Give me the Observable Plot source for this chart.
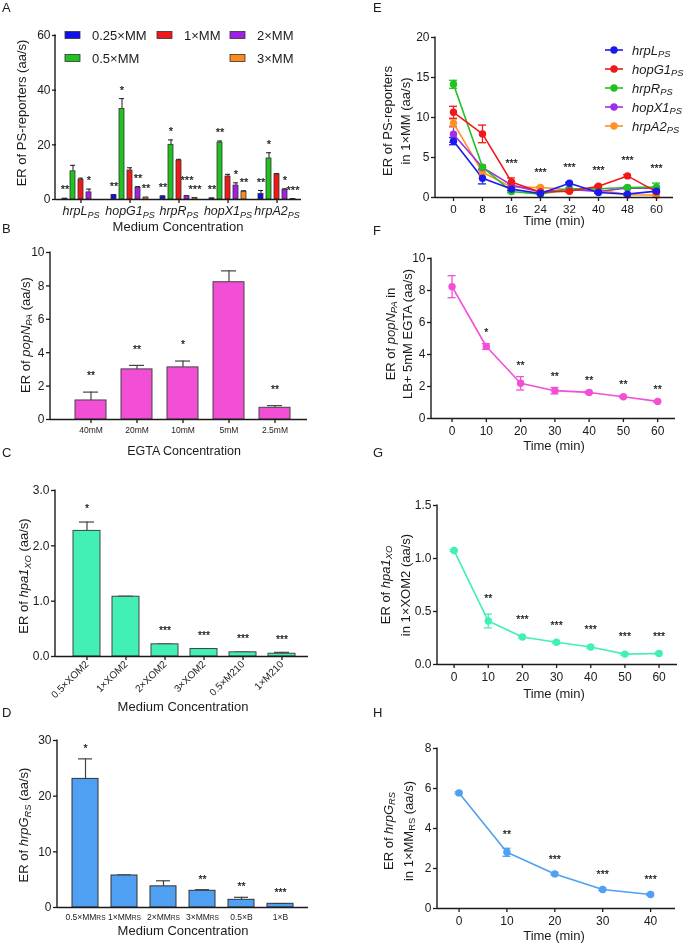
<!DOCTYPE html>
<html><head><meta charset="utf-8">
<script src="https://cdn.jsdelivr.net/npm/d3@7"></script>
<script src="https://cdn.jsdelivr.net/npm/@observablehq/plot@0.6"></script>
<style>
body{margin:0;background:#fff;}
#fig{position:relative;width:685px;height:945px;background:#fff;overflow:hidden;}
.panel{position:absolute;will-change:transform;}
</style></head><body><div id="fig"></div>
<script>
// ---------------- Panel A ----------------
const aGroups = ["hrpL","hopG1","hrpR","hopX1","hrpA2"];
const aSeries = ["0.25×MM","0.5×MM","1×MM","2×MM","3×MM"];
const aMean025 = [0.3, 1.6, 1.1, 0.4, 2.0];
const aMean05  = [10.3, 33.1, 20.0, 20.8, 15.0];
const aMean1   = [7.2, 10.6, 14.2, 8.4, 9.2];
const aMean2   = [2.6, 4.2, 1.2, 5.1, 3.5];
const aMean3   = [null, 0.7, 0.6, 2.8, 0.15];
const aSem025 = [0.1, 0.2, 0.2, 0.1, 1.3];
const aSem05  = [2.2, 3.8, 1.8, 0.6, 2.1];
const aSem1   = [0.6, 1.0, 0.5, 0.8, 0.3];
const aSem2   = [1.2, 0.5, 0.2, 1.0, 0.4];
const aSem3   = [null, 0.1, 0.1, 0.4, 0.05];
const aSig025 = ["**","**","**","**","**"];
const aSig05  = ["","*","*","**","*"];
const aSig1   = ["","","","",""];
const aSig2   = ["*","**","***","*","*"];
const aSig3   = ["","**","***","**","***"];
const aTicks = [0, 20, 40, 60];

// ---------------- Panel B ----------------
const bConc = ["40mM","20mM","10mM","5mM","2.5mM"];
const bMean = [1.14, 3.0, 3.12, 8.22, 0.70];
const bSem  = [0.5, 0.24, 0.38, 0.68, 0.13];
const bSig  = ["**","**","*","","**"];
const bTicks = [0, 2, 4, 6, 8, 10];

// ---------------- Panel C ----------------
const cMedia = ["0.5×XOM2","1×XOM2","2×XOM2","3×XOM2","0.5×M210","1×M210"];
const cMean = [2.27, 1.08, 0.22, 0.135, 0.075, 0.05];
const cSem  = [0.16, 0.01, 0.005, 0.005, 0.005, 0.025];
const cSig  = ["*","","***","***","***","***"];
const cTicks = [0, 1, 2, 3];

// ---------------- Panel D ----------------
const dMedia = ["0.5×MMRS","1×MMRS","2×MMRS","3×MMRS","0.5×B","1×B"];
const dMean = [23.1, 5.75, 3.8, 3.0, 1.38, 0.66];
const dSem  = [3.6, 0.1, 1.0, 0.2, 0.45, 0.05];
const dSig  = ["*","","","**","**","***"];
const dTicks = [0, 10, 20, 30];

// ---------------- Panel E ----------------
const eTimes = ["0","8","16","24","32","40","48","60"];
const eSeries = ["hrpL","hopG1","hrpR","hopX1","hrpA2"];
const eHrpL  = [7.05, 2.4, 1.05, 0.5, 1.78, 0.63, 0.42, 0.8];
const eHopG1 = [10.65, 7.95, 1.95, 0.65, 0.78, 1.4, 2.7, 0.7];
const eHrpR  = [14.15, 3.8, 0.75, 0.42, 1.1, 1.1, 1.25, 1.3];
const eHopX1 = [7.9, 3.75, 1.55, 0.7, 1.0, 0.75, 1.2, 1.15];
const eHrpA2 = [9.3, 3.15, 1.3, 1.25, 1.0, 0.95, 0.35, 0.3];
const eSemHrpL  = [0.45, 0.7, 0.2, 0.1, 0.1, 0.1, 0.1, 0.1];
const eSemHopG1 = [0.75, 1.1, 0.5, 0.1, 0.1, 0.1, 0.15, 0.1];
const eSemHrpR  = [0.5, 0.2, 0.15, 0.05, 0.1, 0.1, 0.1, 0.5];
const eSemHopX1 = [1.0, 0.3, 0.2, 0.1, 0.1, 0.1, 0.1, 0.1];
const eSemHrpA2 = [0.5, 0.3, 0.2, 0.1, 0.1, 0.1, 0.1, 0.1];
const eSig = ["","","***","***","***","***","***","***"];
const eTicks = [0, 5, 10, 15, 20];

// ---------------- Panel F ----------------
const fTimes = [0, 10, 20, 30, 40, 50, 60];
const fMean = [8.24, 4.5, 2.2, 1.74, 1.63, 1.36, 1.07];
const fSem  = [0.69, 0.18, 0.42, 0.2, 0.08, 0.06, 0.05];
const fSig  = ["","*","**","**","**","**","**"];
const fTicks = [0, 2, 4, 6, 8, 10];

// ---------------- Panel G ----------------
const gTimes = [0, 10, 20, 30, 40, 50, 60];
const gMean = [1.075, 0.41, 0.26, 0.21, 0.165, 0.098, 0.104];
const gSem  = [0.01, 0.065, 0.01, 0.01, 0.01, 0.01, 0.01];
const gSig  = ["","**","***","***","***","***","***"];
const gTicks = [0, 0.5, 1.0, 1.5];

// ---------------- Panel H ----------------
const hTimes = [0, 10, 20, 30, 40];
const hMean = [5.78, 2.81, 1.73, 0.95, 0.7];
const hSem  = [0.05, 0.2, 0.05, 0.05, 0.05];
const hSig  = ["","**","***","***","***"];
const hTicks = [0, 2, 4, 6, 8];

// ---------------- styling ----------------
const FONT = '"Liberation Sans", Arial, Helvetica, sans-serif';
const INK = "#1b1b1b";
const STAR = "#222";
const aColors = ["#1010ee", "#22c122", "#f01818", "#a020e6", "#ff8a1c"];
const eColors = ["#1a1aee", "#f01818", "#22c122", "#a22ee6", "#ff9224"];
const PINK = "#f24fd6", AQUA = "#42efb4", SKY = "#4f9ff2";

function st(fs) { return {fontFamily: FONT, fontSize: fs + "px", color: INK, background: "transparent", overflow: "visible"}; }

// markup: «italic», _{subscript}, ^{small}
function rich(textEl, str) {
  const segs = []; let it = false, mode = null, buf = "";
  const push = () => { if (buf) segs.push({t: buf, it, mode}); buf = ""; };
  for (let k = 0; k < str.length; k++) {
    const ch = str[k];
    if (ch === "«") { push(); it = true; continue; }
    if (ch === "»") { push(); it = false; continue; }
    if ((ch === "_" || ch === "^") && str[k + 1] === "{") { push(); mode = ch === "_" ? "sub" : "small"; k++; continue; }
    if (ch === "}" && mode) { push(); mode = null; continue; }
    buf += ch;
  }
  push();
  const sel = d3.select(textEl); sel.text(null);
  let shift = 0;
  for (const s of segs) {
    const ts = sel.append("tspan").text(s.t);
    if (s.it) ts.attr("font-style", "italic");
    let f = 1, target = 0;
    if (s.mode === "sub") { f = 0.72; target = 0.2; ts.attr("font-size", "0.72em"); }
    else if (s.mode === "small") { f = 0.78; target = 0; ts.attr("font-size", "0.78em"); }
    if (target !== shift) { ts.attr("dy", ((target - shift) / f).toFixed(3) + "em"); shift = target; }
  }
}

function label(s, x, y, str, o = {}) {
  const t = s.append("text").attr("fill", INK).attr("font-family", FONT)
    .attr("font-size", o.size || 13).attr("text-anchor", o.anchor || "middle");
  if (o.rot) t.attr("transform", `translate(${x},${y}) rotate(-90)`).attr("dy", "0.36em");
  else t.attr("x", x).attr("y", y);
  t.text(str);
  return t;
}

function make(opts, left, top, deco) {
  const svg = Plot.plot(opts);
  const s = d3.select(svg);
  const x0 = opts.marginLeft, y0 = opts.marginTop, y1 = opts.height - opts.marginBottom;
  s.append("line").attr("x1", x0).attr("x2", x0).attr("y1", y0 - 0.6).attr("y2", y1 + 0.7)
    .attr("stroke", INK).attr("stroke-width", 1.4);
  deco(s);
  svg.querySelectorAll("text").forEach(t => { const str = t.textContent; if (/«|[_^]\{/.test(str)) rich(t, str); });
  const div = document.createElement("div");
  div.className = "panel"; div.style.left = left + "px"; div.style.top = top + "px";
  div.appendChild(svg); document.getElementById("fig").appendChild(div);
}

const axisLine = () => Plot.ruleY([0], {stroke: INK, strokeWidth: 1.4});
const starText = (data, o) => Plot.text(data, {text: "sig", fontSize: 10.5, fill: STAR, stroke: STAR, strokeWidth: 0.25, ...o});

// ================= Panel A =================
{
  const means = [aMean025, aMean05, aMean1, aMean2, aMean3];
  const sems = [aSem025, aSem05, aSem1, aSem2, aSem3];
  const sigs = [aSig025, aSig05, aSig1, aSig2, aSig3];
  const data = [];
  aGroups.forEach((g, i) => aSeries.forEach((s, j) => {
    if (means[j][i] == null) return;
    data.push({g, s, v: means[j][i], top: means[j][i] + sems[j][i], sig: sigs[j][i], sy: means[j][i] + sems[j][i]});
  }));
  // keep wide neighbouring star labels from colliding: lift the left one
  for (let k = 0; k < data.length - 1; k++) {
    const a = data[k], b = data[k + 1];
    if (a.g === b.g && a.sig && b.sig && a.sig.length + b.sig.length > 4 && Math.abs(a.sy - b.sy) < 3) a.sy = b.sy + 3.3;
  }
  make({
    width: 345, height: 235, marginLeft: 55, marginRight: 43, marginTop: 35, marginBottom: 36,
    style: st(12),
    fx: {domain: aGroups, padding: 0},
    x: {domain: aSeries, paddingInner: 0.4, paddingOuter: 0.6, axis: null},
    y: {domain: [0, 60]},
    color: {domain: aSeries, range: aColors},
    marks: [
      Plot.ruleX(data, {fx: "g", x: "s", y1: "v", y2: "top", stroke: INK, strokeWidth: 1}),
      Plot.tickY(data, {fx: "g", x: "s", y: "top", stroke: INK, strokeWidth: 1}),
      Plot.barY(data, {fx: "g", x: "s", y: "v", fill: "s", stroke: "#333", strokeWidth: 0.8}),
      starText(data.filter(d => d.sig), {fx: "g", x: "s", y: "sy", dy: -8.5, fontSize: 11}),
      axisLine(),
      Plot.axisY({ticks: aTicks, tickSize: 4, tickPadding: 2, label: null, strokeWidth: 1.3}),
      Plot.axisFx({anchor: "bottom", tickSize: 4, tickPadding: 3, label: null, fontSize: 12.5, strokeWidth: 1.3,
        tickFormat: d => `«${d}»_{«PS»}`})
    ]
  }, 0, 0, s => {
    label(s, 21.5, 113, "ER of PS-reporters (aa/s)", {rot: true});
    label(s, 178, 230.5, "Medium Concentration");
    label(s, 2, 12, "A", {anchor: "start"});
    const cols = [65, 157, 230], rows = [35, 58];
    const pos = [[0, 0], [0, 1], [1, 0], [2, 0], [2, 1]];
    aSeries.forEach((name, j) => {
      const x = cols[pos[j][0]], y = rows[pos[j][1]];
      s.append("rect").attr("x", x).attr("y", y - 3.5).attr("width", 15).attr("height", 7)
        .attr("fill", aColors[j]).attr("stroke", "#333").attr("stroke-width", 0.8);
      label(s, x + 27, y + 4.6, name, {anchor: "start", size: 13});
    });
  });
}

// ================= Panel B =================
{
  const data = bConc.map((c, i) => ({c, v: bMean[i], top: bMean[i] + bSem[i], sig: bSig[i]}));
  make({
    width: 345, height: 235, marginLeft: 50, marginRight: 38, marginTop: 17, marginBottom: 51,
    style: st(12),
    x: {domain: bConc, paddingInner: 0.32, paddingOuter: 0, insetLeft: 23, insetRight: 15},
    y: {domain: [0, 10]},
    marks: [
      Plot.ruleX(data, {x: "c", y1: "v", y2: "top", stroke: "#444", strokeWidth: 1.2}),
      Plot.tickY(data, {x: "c", y: "top", stroke: "#444", strokeWidth: 1.2, insetLeft: 8, insetRight: 8}),
      Plot.barY(data, {x: "c", y: "v", fill: PINK, stroke: "#444", strokeWidth: 1}),
      starText(data.filter(d => d.sig), {x: "c", y: "top", dy: -16}),
      axisLine(),
      Plot.axisY({ticks: bTicks, tickSize: 4, tickPadding: 2, label: null, strokeWidth: 1.3}),
      Plot.axisX({tickSize: 4, tickPadding: 3, label: null, fontSize: 8.5, strokeWidth: 1.3})
    ]
  }, 0, 235, s => {
    label(s, 25, 100, "ER of «popN»_{«PA»} (aa/s)", {rot: true});
    label(s, 184, 220, "EGTA Concentration", {size: 12.5});
    label(s, 2, -2, "B", {anchor: "start"});
  });
}

// ================= Panel C =================
{
  const data = cMedia.map((c, i) => ({c, v: cMean[i], top: cMean[i] + cSem[i], sig: cSig[i]}));
  make({
    width: 345, height: 235, marginLeft: 55, marginRight: 37, marginTop: 20, marginBottom: 49,
    style: st(12),
    x: {domain: cMedia, paddingInner: 0.32, paddingOuter: 0, insetLeft: 17, insetRight: 12.6},
    y: {domain: [0, 3]},
    marks: [
      Plot.ruleX(data, {x: "c", y1: "v", y2: "top", stroke: "#444", strokeWidth: 1.2}),
      Plot.tickY(data, {x: "c", y: "top", stroke: "#444", strokeWidth: 1.2, insetLeft: 6, insetRight: 6}),
      Plot.barY(data, {x: "c", y: "v", fill: AQUA, stroke: "#444", strokeWidth: 1}),
      starText(data.filter(d => d.sig), {x: "c", y: "top", dy: -13}),
      axisLine(),
      Plot.axisY({ticks: cTicks, tickFormat: ".1f", tickSize: 4, tickPadding: 2, label: null, strokeWidth: 1.3}),
      Plot.axisX({tickSize: 4, tickPadding: 2, tickRotate: -45, label: null, fontSize: 10, strokeWidth: 1.3})
    ]
  }, 0, 470, s => {
    label(s, 23.5, 106, "ER of «hpa1»_{«XO»} (aa/s)", {rot: true});
    label(s, 183, 241, "Medium Concentration");
    label(s, 2, -13, "C", {anchor: "start"});
  });
}

// ================= Panel D =================
{
  const data = dMedia.map((c, i) => ({c, v: dMean[i], top: dMean[i] + dSem[i], sig: dSig[i]}));
  make({
    width: 345, height: 240, marginLeft: 57, marginRight: 37, marginTop: 35, marginBottom: 38,
    style: st(12),
    x: {domain: dMedia, paddingInner: 0.33, paddingOuter: 0, insetLeft: 13, insetRight: 13},
    y: {domain: [0, 30]},
    marks: [
      Plot.ruleX(data, {x: "c", y1: "v", y2: "top", stroke: "#444", strokeWidth: 1.2}),
      Plot.tickY(data, {x: "c", y: "top", stroke: "#444", strokeWidth: 1.2, insetLeft: 6, insetRight: 6}),
      Plot.barY(data, {x: "c", y: "v", fill: SKY, stroke: "#333", strokeWidth: 1}),
      starText(data.filter(d => d.sig), {x: "c", y: "top", dy: -10.5}),
      axisLine(),
      Plot.axisY({ticks: dTicks, tickSize: 4, tickPadding: 2, label: null, strokeWidth: 1.3}),
      Plot.axisX({tickSize: 0, tickPadding: 6, label: null, fontSize: 8.5,
        tickFormat: d => d.replace(/RS$/, "^{RS}")})
    ]
  }, 0, 705, s => {
    label(s, 23.5, 120, "ER of «hrpG»_{«RS»} (aa/s)", {rot: true});
    label(s, 183, 230, "Medium Concentration");
    label(s, 2, 12, "D", {anchor: "start"});
  });
}

// ================= Panel E =================
{
  const means = [eHrpL, eHopG1, eHrpR, eHopX1, eHrpA2];
  const sems = [eSemHrpL, eSemHopG1, eSemHrpR, eSemHopX1, eSemHrpA2];
  const data = [];
  [4, 3, 2, 1, 0].forEach(j => eTimes.forEach((t, i) =>
    data.push({s: eSeries[j], t, v: means[j][i], lo: means[j][i] - sems[j][i], hi: means[j][i] + sems[j][i]})));
  const stars = eTimes.map((t, i) => ({t, sig: eSig[i], top: d3.max(means, (m, j) => m[i] + sems[j][i])})).filter(d => d.sig);
  make({
    width: 340, height: 235, marginLeft: 90, marginRight: 12, marginTop: 37, marginBottom: 38,
    style: st(12),
    x: {type: "point", domain: eTimes, padding: 0.5},
    y: {domain: [0, 20]},
    color: {domain: eSeries, range: eColors},
    marks: [
      Plot.ruleX(data, {x: "t", y1: "lo", y2: "hi", stroke: "s", strokeWidth: 1.3}),
      Plot.ruleY(data, {x1: "t", x2: "t", y: "hi", stroke: "s", strokeWidth: 1.3, insetLeft: -4, insetRight: -4}),
      Plot.ruleY(data, {x1: "t", x2: "t", y: "lo", stroke: "s", strokeWidth: 1.3, insetLeft: -4, insetRight: -4}),
      Plot.line(data, {x: "t", y: "v", stroke: "s", z: "s", strokeWidth: 1.6}),
      Plot.dot(data, {x: "t", y: "v", fill: "s", r: 3.7}),
      starText(stars, {x: "t", y: "top", dy: -14.5}),
      axisLine(),
      Plot.axisY({ticks: eTicks, tickSize: 4, tickPadding: 2, label: null, strokeWidth: 1.3}),
      Plot.axisX({tickSize: 4, tickPadding: 3, label: null, fontSize: 11.5, strokeWidth: 1.3})
    ]
  }, 345, 0, s => {
    label(s, 42, 121, "ER of PS-reporters", {rot: true});
    label(s, 60, 121, "in 1×MM (aa/s)", {rot: true});
    label(s, 209, 225, "Time (min)");
    label(s, 28, 12, "E", {anchor: "start"});
    eSeries.forEach((name, j) => {
      const y = 50 + j * 19;
      s.append("line").attr("x1", 260).attr("x2", 278).attr("y1", y).attr("y2", y)
        .attr("stroke", eColors[j]).attr("stroke-width", 1.6);
      s.append("circle").attr("cx", 269).attr("cy", y).attr("r", 3.7).attr("fill", eColors[j]);
      label(s, 287, y + 4.5, `«${name}»_{«PS»}`, {anchor: "start", size: 13});
    });
  });
}

// ============ single-series time panels ============
function timePanel(times, mean, sem, sig, cfg) {
  const data = times.map((t, i) => ({t, v: mean[i], lo: mean[i] - sem[i], hi: mean[i] + sem[i], sig: sig[i]}));
  make({
    width: 340, height: cfg.height, marginLeft: cfg.ml, marginRight: cfg.mr, marginTop: cfg.mt, marginBottom: cfg.mb,
    style: st(12),
    x: {domain: cfg.xdom},
    y: {domain: cfg.ydom},
    marks: [
      Plot.ruleX(data, {x: "t", y1: "lo", y2: "hi", stroke: cfg.color, strokeWidth: 1.3}),
      Plot.ruleY(data, {x1: "t", x2: "t", y: "hi", stroke: cfg.color, strokeWidth: 1.3, insetLeft: -4, insetRight: -4}),
      Plot.ruleY(data, {x1: "t", x2: "t", y: "lo", stroke: cfg.color, strokeWidth: 1.3, insetLeft: -4, insetRight: -4}),
      Plot.line(data, {x: "t", y: "v", stroke: cfg.color, strokeWidth: 1.6}),
      Plot.dot(data, {x: "t", y: "v", fill: cfg.color, r: 3.7}),
      starText(data.filter(d => d.sig), {x: "t", y: "hi", dy: cfg.dy}),
      axisLine(),
      Plot.axisY({ticks: cfg.yticks, tickFormat: cfg.yfmt, tickSize: 4, tickPadding: 2, label: null, strokeWidth: 1.3}),
      Plot.axisX({ticks: times, tickSize: 4, tickPadding: 4, label: null, strokeWidth: 1.3})
    ]
  }, 345, cfg.top, s => {
    label(s, cfg.t1x, cfg.ty, cfg.title1, {rot: true});
    label(s, cfg.t2x, cfg.ty, cfg.title2, {rot: true});
    label(s, 209, cfg.xty, "Time (min)");
    label(s, 28, cfg.ly, cfg.letter, {anchor: "start"});
  });
}

timePanel(fTimes, fMean, fSem, fSig, {
  top: 235, height: 235, ml: 86, mr: 10, mt: 23, mb: 52, xdom: [-6, 65.2], ydom: [0, 10], yticks: fTicks,
  color: PINK, dy: -11, title1: "ER of «popN»_{«PA»} in", title2: "LB+ 5mM EGTA (aa/s)",
  t1x: 45, t2x: 62, ty: 99, xty: 215, letter: "F", ly: 0
});
timePanel(gTimes, gMean, gSem, gSig, {
  top: 470, height: 235, ml: 92, mr: 8, mt: 35, mb: 41, xdom: [-4.86, 65.4], ydom: [0, 1.5], yticks: gTicks, yfmt: ".1f",
  color: AQUA, dy: -16, title1: "ER of «hpa1»_{«XO»}", title2: "in 1×XOM2 (aa/s)",
  t1x: 40, t2x: 60, ty: 115, xty: 227.7, letter: "G", ly: -13
});
timePanel(hTimes, hMean, hSem, hSig, {
  top: 705, height: 240, ml: 92, mr: 10, mt: 43, mb: 37, xdom: [-4.5, 45.2], ydom: [0, 8], yticks: hTicks,
  color: SKY, dy: -13.5, title1: "ER of «hrpG»_{«RS»}", title2: "in 1×MM_{RS} (aa/s)",
  t1x: 43, t2x: 63, ty: 126, xty: 235, letter: "H", ly: 12
});
</script></body></html>
